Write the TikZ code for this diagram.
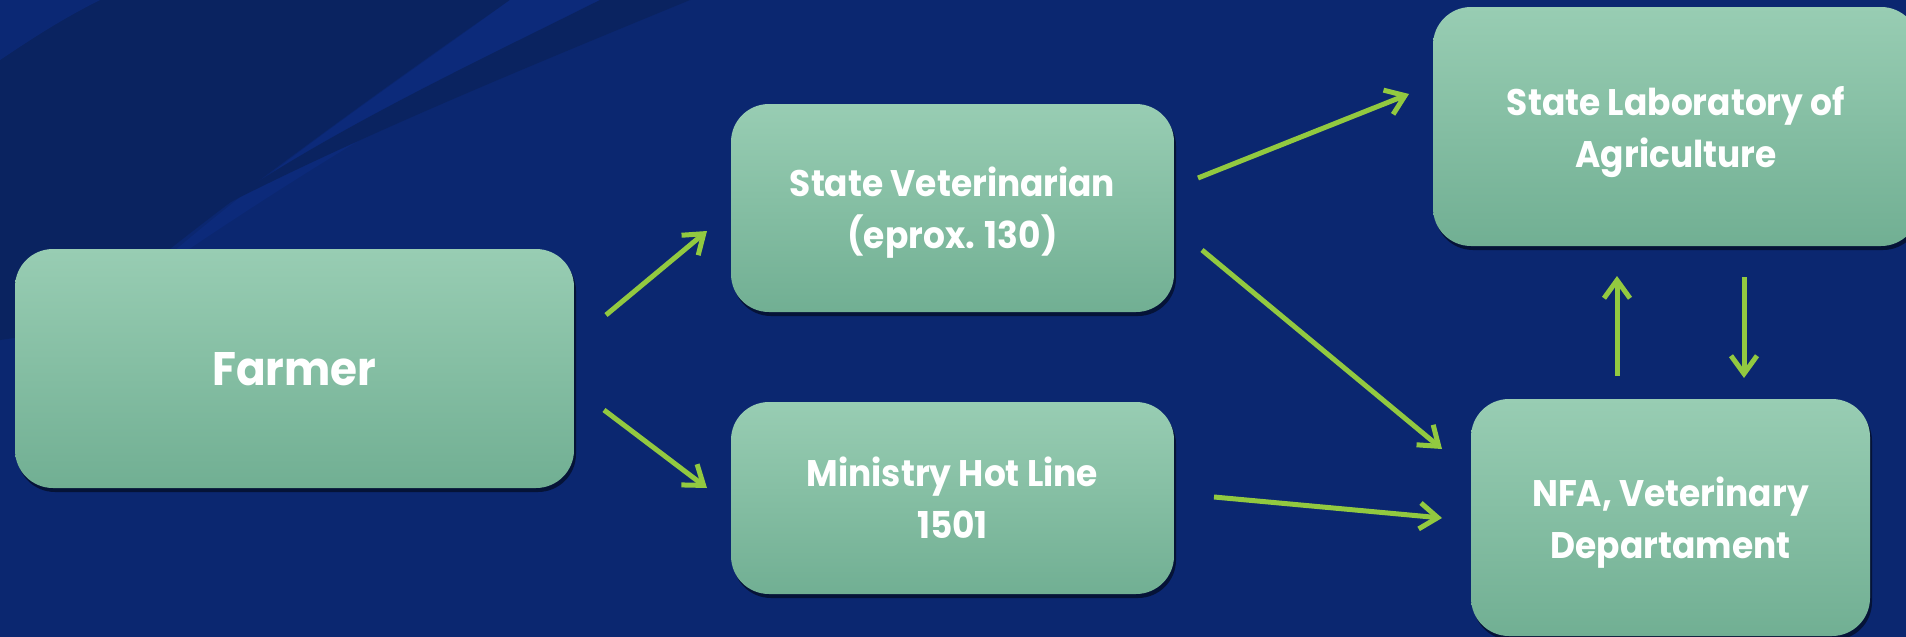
\documentclass[tikz,border=0pt]{standalone}
\usepackage{fontspec}
\setmainfont{Poppins}[FakeStretch=0.93]
\usetikzlibrary{arrows.meta,shadows}
\definecolor{bg}{HTML}{0B2770}
\definecolor{bgdark}{HTML}{0A2360}
\definecolor{bglight}{HTML}{0C2A7A}
\definecolor{boxtop}{HTML}{98CDB3}
\definecolor{boxbot}{HTML}{71AF93}
\definecolor{flowgreen}{HTML}{92C940}
\begin{document}
\begin{tikzpicture}[x=1pt,y=1pt,
  box/.style={rounded corners=38pt, top color=boxtop, bottom color=boxbot,
    draw=none, align=center, text=white, inner sep=0pt, text depth=0pt,
    font=\fontsize{37}{52}\selectfont\bfseries,
    drop shadow={shadow xshift=2pt, shadow yshift=-4pt, opacity=0.5, fill=black}},
  flow/.style={draw=flowgreen, line width=5pt,
    -{Straight Barb[length=18pt,width=26pt]}}]
\useasboundingbox (0,0) rectangle (1906,-637);
\clip (0,0) rectangle (1906,-637);
% background
\fill[bg] (0,0) rectangle (1906,-637);
\fill[bgdark] (0,0) -- (510,0) .. controls (380,-90) and (200,-220) .. (70,-330) -- (0,-340) -- cycle;
\fill[bglight] (510,0) -- (600,0) .. controls (460,-80) and (300,-170) .. (130,-290) .. controls (250,-180) and (400,-80) .. (510,0) -- cycle;
\fill[bgdark] (600,0) -- (690,0) .. controls (520,-70) and (350,-140) .. (215,-210) .. controls (330,-130) and (480,-60) .. (600,0) -- cycle;
\fill[bglight, opacity=0.8] (0,0) -- (100,0) .. controls (60,-20) and (30,-40) .. (0,-60) -- cycle;
% boxes
\node[box, minimum width=559pt, minimum height=239pt, font=\fontsize{47}{56}\selectfont\bfseries] (farmer) at (294.5,-368.5) {Farmer};
\node[box, minimum width=443pt, minimum height=208pt] (vet) at (952.5,-208) {State Veterinarian\\(eprox. 130)};
\node[box, minimum width=443pt, minimum height=192pt] (hotline) at (952.5,-498) {Ministry Hot Line\\1501};
\node[box, minimum width=486pt, minimum height=239pt] (lab) at (1676,-126.5) {State Laboratory of\\Agriculture};
\node[box, minimum width=399pt, minimum height=237pt] (nfa) at (1670.5,-517.5) {NFA, Veterinary\\Departament};
% connector ends
\coordinate (f1) at (606,-315);  \coordinate (v1) at (707,-231);
\coordinate (f2) at (604,-410);  \coordinate (h1) at (707,-488);
\coordinate (v2) at (1198,-178); \coordinate (l1) at (1409,-94);
\coordinate (v3) at (1202,-250); \coordinate (n1) at (1442,-449);
\coordinate (h2) at (1214,-497); \coordinate (n2) at (1442,-518);
\coordinate (n3) at (1617,-376); \coordinate (l2) at (1617,-276);
\coordinate (l3) at (1744,-277); \coordinate (n4) at (1744,-378);
% connectors
\draw[flow] (f1) -- (v1);
\draw[flow] (f2) -- (h1);
\draw[flow] (v2) -- (l1);
\draw[flow] (v3) -- (n1);
\draw[flow] (h2) -- (n2);
\draw[flow] (n3) -- (l2);
\draw[flow] (l3) -- (n4);
\end{tikzpicture}
\end{document}
